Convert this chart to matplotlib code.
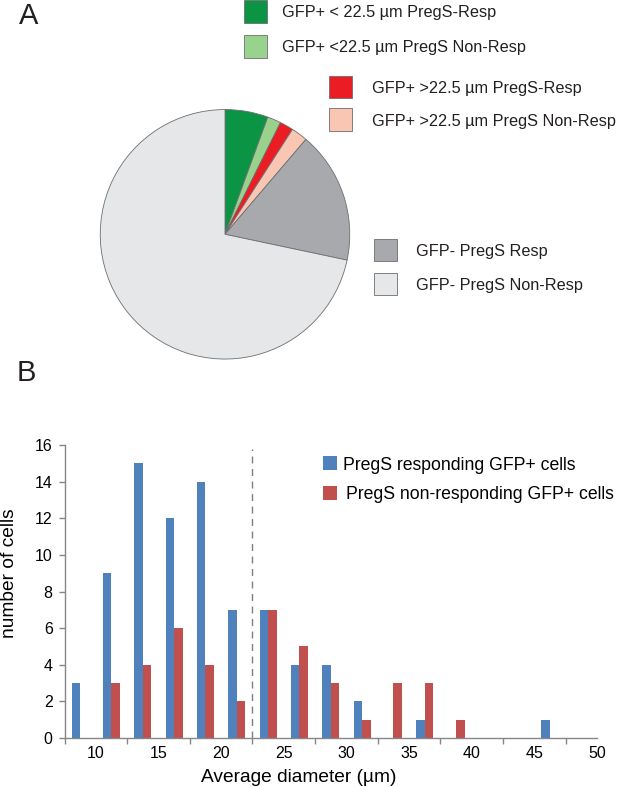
#script to redraw the PregS response pie chart and the diameter histogram

import matplotlib
matplotlib.use('Agg')
import matplotlib.pyplot as plt
from matplotlib.patches import Rectangle

plt.rcParams['font.family'] = ['Liberation Sans', 'DejaVu Sans']

# panel A data
pie_labels = ['GFP+ < 22.5 µm PregS-Resp', 'GFP+ <22.5 µm PregS Non-Resp',
              'GFP+ >22.5 µm PregS-Resp', 'GFP+ >22.5 µm PregS Non-Resp',
              'GFP- PregS Resp', 'GFP- PregS Non-Resp']
pie_counts = [60, 19, 19, 23, 184, 772]
pie_colors = ['#0b9444', '#99d28d', '#ec1c24', '#f9c6b3', '#a7a9ac', '#e6e7e8']

# panel B data
bin_centers = [8.75, 11.25, 13.75, 16.25, 18.75, 21.25, 23.75, 26.25, 28.75,
               31.25, 33.75, 36.25, 38.75, 41.25, 43.75, 46.25, 48.75]
resp_counts = [3, 9, 15, 12, 14, 7, 7, 4, 4, 2, 0, 1, 0, 0, 0, 1, 0]
nonresp_counts = [0, 3, 4, 6, 4, 2, 7, 5, 3, 1, 3, 3, 1, 0, 0, 0, 0]
x_labels = [10, 15, 20, 25, 30, 35, 40, 45, 50]
x_tick_marks = [7.5, 12.5, 17.5, 22.5, 27.5, 32.5, 37.5, 42.5, 47.5]
y_ticks = [0, 2, 4, 6, 8, 10, 12, 14, 16]
hist_labels = ['PregS responding GFP+ cells', 'PregS non-responding GFP+ cells']
hist_colors = ['#4f81bd', '#c0504d']
cutoff = 22.5

W, H = 617, 787


def fx(px):
    return px / W


def fy(py):
    return 1 - py / H


def main():
    fig = plt.figure(figsize=(W / 100, H / 100), dpi=100)

    # ---- A: pie
    ax1 = fig.add_axes([fx(99), fy(360.3), 252 / W, 252 / H])
    ax1.pie(pie_counts, colors=pie_colors, startangle=90, counterclock=False,
            wedgeprops=dict(edgecolor='#6d6e70', linewidth=0.6))
    ax1.set_xlim(-1.01, 1.01)
    ax1.set_ylim(-1.01, 1.01)
    ax1.set_aspect('auto')

    # legend boxes (left, top) in pixels and text x
    box_pos = [(244.3, 0), (244.3, 35), (329.3, 75.5), (329.3, 108.3),
               (374.3, 238.5), (374.3, 272.5)]
    text_x = [281.7, 281.7, 371.7, 371.7, 416.5, 416.5]
    for i, lab in enumerate(pie_labels):
        bx, by = box_pos[i]
        fig.patches.append(Rectangle((fx(bx), fy(by + 22.6)), 22.4 / W, 22.6 / H,
                                     transform=fig.transFigure, facecolor=pie_colors[i],
                                     edgecolor='#6d6e70', linewidth=0.6))
        fig.text(fx(text_x[i]), fy(by + 11.3 + 6.0), lab, fontsize=11.7,
                 ha='left', va='baseline', color='#231f20')

    fig.text(fx(19), fy(24), 'A', fontsize=21, va='baseline', color='#231f20')
    fig.text(fx(17), fy(380.7), 'B', fontsize=21, va='baseline', color='#231f20')

    # ---- B: histogram
    ax2 = fig.add_axes([fx(64.5), fy(738), (597 - 64.5) / W, (738 - 445) / H])
    off = 0.34
    ax2.bar([c - off for c in bin_centers], resp_counts, width=0.68,
            color=hist_colors[0], linewidth=0)
    ax2.bar([c + off for c in bin_centers], nonresp_counts, width=0.68,
            color=hist_colors[1], linewidth=0)
    ax2.axvline(cutoff, ymax=0.985, color='#7f7f7f', linestyle=(0, (5, 4)), linewidth=1)

    ax2.set_xlim(7.5, 50)
    ax2.set_ylim(0, 16)
    for s in ['top', 'right']:
        ax2.spines[s].set_visible(False)
    for s in ['left', 'bottom']:
        ax2.spines[s].set_color('#868686')
        ax2.spines[s].set_linewidth(1)

    # labels sit between the tick marks, like the original category axis
    ax2.set_xticks(x_labels)
    ax2.set_xticklabels([str(v) for v in x_labels], fontsize=11.5)
    ax2.set_xticks(x_tick_marks, minor=True)
    ax2.tick_params(axis='x', which='major', length=0, pad=5.5)
    ax2.tick_params(axis='x', which='minor', direction='out', length=4,
                    color='#868686', width=1)
    ax2.set_yticks(y_ticks)
    ax2.set_yticklabels([str(v) for v in y_ticks], fontsize=11.5)
    ax2.tick_params(axis='y', direction='out', length=4, color='#868686',
                    width=1, pad=4.5)

    fig.text(fx(298.5), fy(781.5), 'Average diameter (µm)', fontsize=13.8,
             ha='center', va='baseline')
    fig.text(fx(9.5), fy(573), 'number of cells', fontsize=13.8, rotation=90,
             ha='center', va='center')

    # legend for the histogram
    leg_box = [(322.7, 456), (322.7, 486)]
    leg_text = [(343.3, 469.7), (345.7, 498.7)]
    for i, lab in enumerate(hist_labels):
        bx, by = leg_box[i]
        fig.patches.append(Rectangle((fx(bx), fy(by + 14)), 14 / W, 14 / H,
                                     transform=fig.transFigure,
                                     facecolor=hist_colors[i], linewidth=0))
        tx, ty = leg_text[i]
        fig.text(fx(tx), fy(ty), lab, fontsize=12.7, ha='left', va='baseline')

    fig.savefig('out.png', dpi=100)


if __name__ == '__main__':
    main()
